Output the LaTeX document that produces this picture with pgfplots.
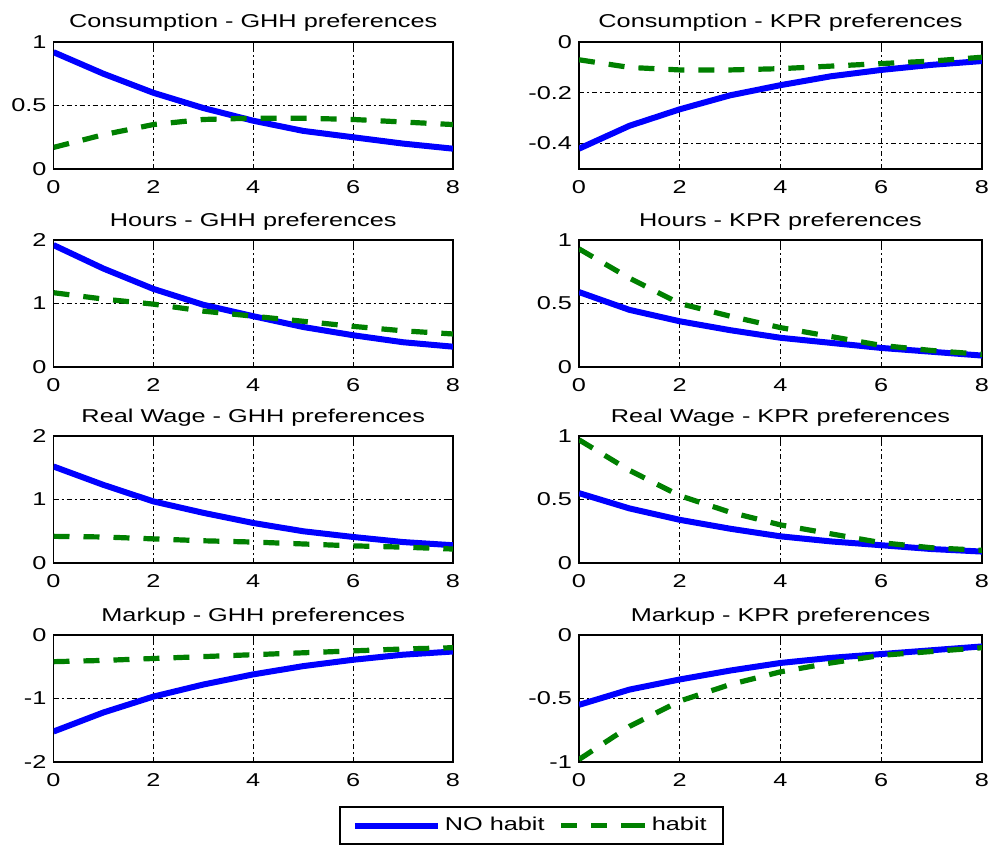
\documentclass[border=0pt]{standalone}
\usepackage{fontspec}
\setmainfont{Liberation Sans}[FakeStretch=1.36]
\usepackage{pgfplots}
\pgfplotsset{compat=1.18}
\newcommand\myfont{\fontsize{9.3}{11}\selectfont}
\definecolor{mblue}{RGB}{0,0,255}
\definecolor{mgreen}{RGB}{0,128,0}
\pgfplotsset{
  myax/.style={
    scale only axis, height=63.5pt,
    xmin=0, xmax=8, xtick={0,2,4,6,8},
    grid=major,
    major grid style={black, line width=0.6pt, dash pattern=on 2.5pt off 1.5pt on 1pt off 1.5pt},
    axis line style={black, line width=0.8pt},
    tick style={black, line width=0.5pt},
    major tick length=2.5pt, tick align=inside,
    /pgf/number format/assume math mode=true,
    ticklabel style={font=\myfont},
    xticklabel style={yshift=-2.4pt},
    title style={font=\myfont, at={(0.5,1)}, anchor=base, yshift=1pt},
  },
  L/.style={myax, width=199.75pt},
  R/.style={myax, width=201.5pt},
  noh/.style={mblue, line width=3pt, no markers,
    legend image code/.code={\draw[##1] (0pt,0pt) -- (41.5pt,0pt);}},
  hab/.style={mgreen, line width=2.6pt, no markers, dash pattern=on 8pt off 7pt,
    legend image code/.code={\draw[##1] (0pt,0pt) -- (38pt,0pt); \path (38pt,0pt) -- (42pt,0pt);}},
}
\begin{document}
\begin{tikzpicture}[font=\myfont]
\path[use as bounding box] (0pt,0pt) rectangle (494pt,-422pt);

% Row 1
\begin{axis}[L, at={(26.75pt,-21pt)}, anchor=north west, ymin=0, ymax=1, ytick={0,0.5,1},
  title={Consumption - GHH preferences}]
\addplot[noh] coordinates {(0,0.92) (1,0.75) (2,0.60) (3,0.48) (4,0.38) (5,0.30) (6,0.25) (7,0.20) (8,0.16)};
\addplot[hab] coordinates {(0,0.17) (1,0.27) (2,0.35) (3,0.39) (4,0.40) (5,0.40) (6,0.39) (7,0.37) (8,0.35)};
\end{axis}
\begin{axis}[R, at={(289.5pt,-21pt)}, anchor=north west, ymin=-0.5, ymax=0, ytick={-0.4,-0.2,0},
  title={Consumption - KPR preferences}]
\addplot[noh] coordinates {(0,-0.42) (1,-0.33) (2,-0.265) (3,-0.21) (4,-0.17) (5,-0.135) (6,-0.11) (7,-0.09) (8,-0.075)};
\addplot[hab] coordinates {(0,-0.07) (1,-0.10) (2,-0.11) (3,-0.11) (4,-0.105) (5,-0.095) (6,-0.085) (7,-0.075) (8,-0.06)};
\end{axis}

% Row 2
\begin{axis}[L, at={(26.75pt,-120pt)}, anchor=north west, ymin=0, ymax=2, ytick={0,1,2},
  title={Hours - GHH preferences}]
\addplot[noh] coordinates {(0,1.92) (1,1.55) (2,1.23) (3,0.98) (4,0.80) (5,0.63) (6,0.50) (7,0.39) (8,0.32)};
\addplot[hab] coordinates {(0,1.17) (1,1.07) (2,0.99) (3,0.88) (4,0.80) (5,0.72) (6,0.64) (7,0.57) (8,0.52)};
\end{axis}
\begin{axis}[R, at={(289.5pt,-120pt)}, anchor=north west, ymin=0, ymax=1, ytick={0,0.5,1},
  title={Hours - KPR preferences}]
\addplot[noh] coordinates {(0,0.59) (1,0.45) (2,0.36) (3,0.29) (4,0.23) (5,0.19) (6,0.15) (7,0.12) (8,0.09)};
\addplot[hab] coordinates {(0,0.93) (1,0.70) (2,0.50) (3,0.40) (4,0.31) (5,0.24) (6,0.17) (7,0.13) (8,0.10)};
\end{axis}

% Row 3
\begin{axis}[L, at={(26.75pt,-218pt)}, anchor=north west, ymin=0, ymax=2, ytick={0,1,2},
  title={Real Wage - GHH preferences}]
\addplot[noh] coordinates {(0,1.52) (1,1.23) (2,0.97) (3,0.79) (4,0.63) (5,0.50) (6,0.41) (7,0.33) (8,0.28)};
\addplot[hab] coordinates {(0,0.42) (1,0.41) (2,0.38) (3,0.35) (4,0.33) (5,0.30) (6,0.27) (7,0.25) (8,0.22)};
\end{axis}
\begin{axis}[R, at={(289.5pt,-218pt)}, anchor=north west, ymin=0, ymax=1, ytick={0,0.5,1},
  title={Real Wage - KPR preferences}]
\addplot[noh] coordinates {(0,0.55) (1,0.43) (2,0.34) (3,0.27) (4,0.21) (5,0.17) (6,0.14) (7,0.11) (8,0.09)};
\addplot[hab] coordinates {(0,0.97) (1,0.73) (2,0.53) (3,0.40) (4,0.30) (5,0.23) (6,0.16) (7,0.12) (8,0.10)};
\end{axis}

% Row 4
\begin{axis}[L, at={(26.75pt,-317.5pt)}, anchor=north west, ymin=-2, ymax=0, ytick={-2,-1,0},
  title={Markup - GHH preferences},
  legend columns=2,
  legend style={at={(0.7147,-0.35)}, anchor=north west, draw=black, line width=0.8pt,
    font=\myfont, inner xsep=6pt, inner ysep=3pt,
    /tikz/every even column/.append style={column sep=5pt}},
  legend cell align=left]
\addplot[noh] coordinates {(0,-1.52) (1,-1.22) (2,-0.97) (3,-0.78) (4,-0.62) (5,-0.49) (6,-0.39) (7,-0.31) (8,-0.26)};
\addlegendentry{NO habit}
\addplot[hab] coordinates {(0,-0.42) (1,-0.40) (2,-0.37) (3,-0.34) (4,-0.31) (5,-0.28) (6,-0.25) (7,-0.22) (8,-0.20)};
\addlegendentry{habit}
\end{axis}
\begin{axis}[R, at={(289.5pt,-317.5pt)}, anchor=north west, ymin=-1, ymax=0, ytick={-1,-0.5,0},
  title={Markup - KPR preferences}]
\addplot[noh] coordinates {(0,-0.55) (1,-0.43) (2,-0.35) (3,-0.28) (4,-0.22) (5,-0.18) (6,-0.15) (7,-0.12) (8,-0.09)};
\addplot[hab] coordinates {(0,-0.98) (1,-0.72) (2,-0.52) (3,-0.39) (4,-0.29) (5,-0.22) (6,-0.16) (7,-0.13) (8,-0.10)};
\end{axis}
\end{tikzpicture}
\end{document}
